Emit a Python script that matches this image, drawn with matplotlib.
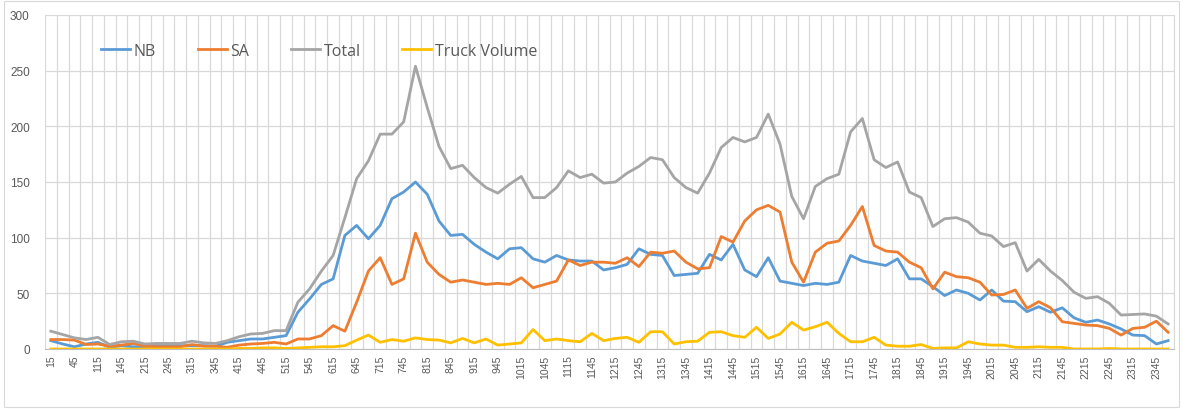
import matplotlib
matplotlib.use("Agg")
import matplotlib.pyplot as plt
from matplotlib.patches import Rectangle
import numpy as np

# ---- data -------------------------------------------------------------
times = [15, 30, 45, 100, 115, 130, 145, 200, 215, 230, 245, 300, 315, 330, 345,
         400, 415, 430, 445, 500, 515, 530, 545, 600, 615, 630, 645, 700, 715, 730,
         745, 800, 815, 830, 845, 900, 915, 930, 945, 1000, 1015, 1030, 1045, 1100,
         1115, 1130, 1145, 1200, 1215, 1230, 1245, 1300, 1315, 1330, 1345, 1400,
         1415, 1430, 1445, 1500, 1515, 1530, 1545, 1600, 1615, 1630, 1645, 1700,
         1715, 1730, 1745, 1800, 1815, 1830, 1845, 1900, 1915, 1930, 1945, 2000,
         2015, 2030, 2045, 2100, 2115, 2130, 2145, 2200, 2215, 2230, 2245, 2300,
         2315, 2330, 2345, 2400]

nb = [7.5, 4.5, 2, 4.5, 6, 1.5, 3, 2, 2, 3, 3, 3, 3, 3, 2.5, 6, 7.5, 9, 9, 10.5,
      12, 33, 45, 58, 63, 102, 111, 99, 111, 135, 141, 150, 139, 115, 102, 103,
      94, 87, 81, 90, 91, 81, 78, 84, 80, 79, 79, 71, 73, 76, 90, 85, 84, 66, 67,
      68, 85, 80, 94, 71, 65, 82, 61, 59, 57, 59, 58, 60, 84, 79, 77, 75, 81, 63,
      63, 56, 48, 53, 50, 44, 53, 43, 42.5, 33.5, 38, 33, 37, 28, 24, 26, 22.5,
      18, 12.5, 12, 4.5, 7.5]

sa = [8.5, 8.5, 8, 4, 4.5, 2.5, 3.5, 5, 2.5, 2, 2, 2, 4, 2.5, 2.5, 1.5, 3.5, 4.5,
      5, 6, 4.5, 9, 9, 12, 21, 16, 42, 70, 82, 58, 63, 104, 78, 67, 60, 62, 60, 58,
      59, 58, 64, 55, 58, 61, 80, 75, 78, 78, 77, 82, 74, 87, 86, 88, 78, 72, 73,
      101, 96, 115, 125, 129, 123, 78, 60, 87, 95, 97, 111, 128, 93, 88, 87, 78,
      73, 54, 69, 65, 64, 60, 48.5, 49, 53, 36.5, 42.5, 37, 24.5, 23, 21.5, 21,
      18.5, 12.5, 18.5, 19.5, 25, 15]

total = [16, 13, 10, 8.5, 10.5, 4, 6.5, 7, 4.5, 5, 5, 5, 7, 5.5, 5, 7.5, 11, 13.5,
         14, 16.5, 16.5, 42, 54, 70, 84, 118, 153, 169, 193, 193, 204, 254, 217,
         182, 162, 165, 154, 145, 140, 148, 155, 136, 136, 145, 160, 154, 157, 149,
         150, 158, 164, 172, 170, 154, 145, 140, 158, 181, 190, 186, 190, 211, 184,
         137, 117, 146, 153, 157, 195, 207, 170, 163, 168, 141, 136, 110, 117, 118,
         114, 104, 101.5, 92, 95.5, 70, 80.5, 70, 61.5, 51, 45.5, 47, 41, 30.5,
         31, 31.5, 29.5, 22.5]

truck = [0, 0, 0, 0, 0, 0, 0, 0, 0, 0, 0, 0, 0, 0, 0, 0, 0.5, 0.5, 1, 1, 0.5, 1,
         1.5, 2, 2, 3, 8, 12.5, 6, 8.5, 7, 10, 8.5, 8, 5.5, 9.5, 5.5, 9, 3.5, 4.5,
         5.5, 17.5, 7.5, 9, 7.5, 6.5, 14, 7.5, 9.5, 10.5, 6, 15.5, 15.5, 4.5, 6.5,
         7, 15, 15.5, 12, 10.5, 19.5, 9.5, 13.5, 24, 17, 20, 24, 14, 6.5, 6.5, 10.5,
         3.5, 2.5, 2.5, 4, 0.5, 1, 1, 6.5, 4.5, 3.5, 3.5, 1.5, 1.5, 2, 1.5, 1.5, 0,
         0, 0, 0.5, 0, 0, 0, 0, 0]

series_names = ["NB", "SA", "Total", "Truck Volume"]
colors = ["#5B9BD5", "#ED7D31", "#A5A5A5", "#FFC000"]

# ---- figure -----------------------------------------------------------
W, H = 1183, 410
fig = plt.figure(figsize=(W / 100, H / 100), dpi=100)
fig.patches.append(Rectangle((4 / W, 2 / H), 1 - 8 / W, 1 - 4 / H,
                             transform=fig.transFigure, fill=False,
                             edgecolor="#d9d9d9", linewidth=0.8))

ax = fig.add_axes([45 / W, 1 - 350 / H, (1174 - 45) / W, (350 - 16) / H])

x = np.arange(len(times))
for vals, name, c in zip([nb, sa, total, truck], series_names, colors):
    ax.plot(x, vals, color=c, lw=2.0, label=name, solid_joinstyle="round")

ax.set_xlim(-0.5, len(times) - 0.5)
ax.set_ylim(0, 300)
ax.set_yticks(np.arange(0, 301, 50))

ax.set_xticks(x[::2])
ax.set_xticklabels([str(t) for t in times[::2]], rotation=90,
                   fontsize=7.5, color="#595959", family="Liberation Sans")
ax.set_xticks(np.arange(-0.5, len(times), 1), minor=True)

ax.tick_params(axis="both", which="both", length=0)
ax.tick_params(axis="x", pad=4)
ax.tick_params(axis="y", labelsize=8.5, labelcolor="#595959", pad=11)
for lab in ax.get_yticklabels():
    lab.set_family("Liberation Sans")

ax.grid(axis="y", which="major", color="#d9d9d9", lw=0.9)
ax.grid(axis="x", which="minor", color="#d9d9d9", lw=0.9)
ax.grid(axis="x", which="major", visible=False)
ax.set_axisbelow(True)

for s in ["top", "left"]:
    ax.spines[s].set_visible(False)
ax.spines["right"].set_color("#d9d9d9")
ax.spines["bottom"].set_color("#bfbfbf")

leg = ax.legend(loc="center", bbox_to_anchor=(0.243, 0.893), ncol=4,
                frameon=False, handlelength=1.8, handletextpad=0.25,
                columnspacing=2.6,
                prop={"family": "Open Sans", "size": 11.5})
for t in leg.get_texts():
    t.set_color("#595959")

fig.savefig("out.png", dpi=100)
